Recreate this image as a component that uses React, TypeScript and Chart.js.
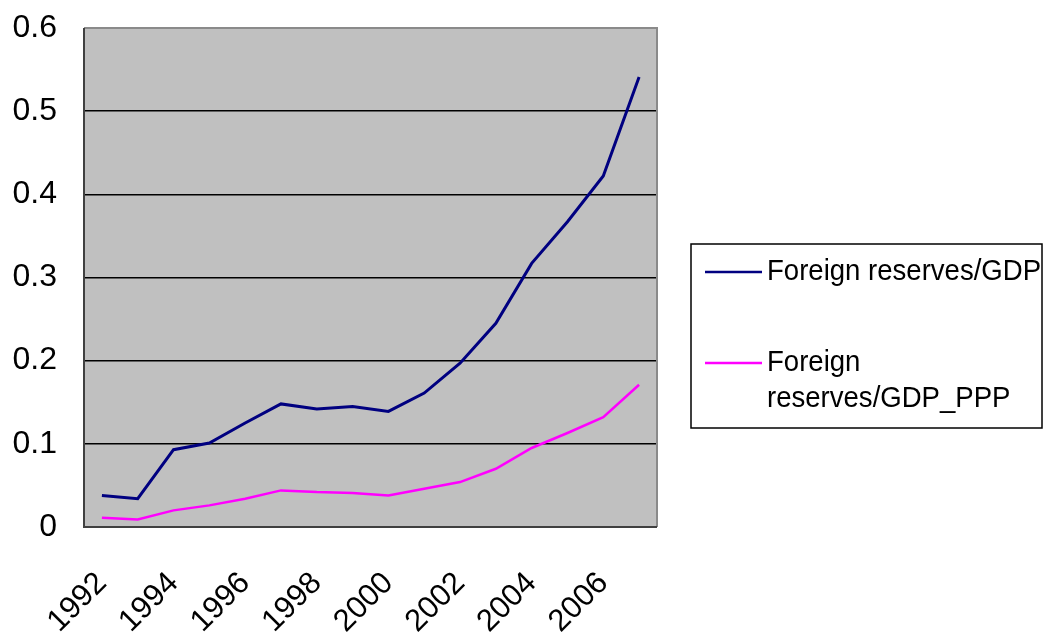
import { useEffect, useRef } from "react";
import { Chart, registerables } from "chart.js";

Chart.register(...registerables);

// Years on the category axis (only even years are labelled)
const years = [
  "1992", "1993", "1994", "1995", "1996", "1997", "1998", "1999",
  "2000", "2001", "2002", "2003", "2004", "2005", "2006", "2007",
];

// Foreign reserves as a share of GDP
const reservesToGdp = [
  0.038, 0.034, 0.093, 0.101, 0.125, 0.148, 0.142, 0.145,
  0.139, 0.161, 0.197, 0.245, 0.317, 0.367, 0.422, 0.541,
];

// Foreign reserves as a share of GDP at purchasing power parity
const reservesToGdpPpp = [
  0.011, 0.009, 0.020, 0.026, 0.034, 0.044, 0.042, 0.041,
  0.038, 0.046, 0.054, 0.070, 0.095, 0.113, 0.132, 0.171,
];

const seriesLabels = ["Foreign reserves/GDP", "Foreign reserves/GDP_PPP"];
// Legend entries as they wrap inside the legend box
const legendLines = [["Foreign reserves/GDP"], ["Foreign", "reserves/GDP_PPP"]];

const yMin = 0;
const yMax = 0.6;
const yStep = 0.1;

const FONT = "'Liberation Sans', Arial, Helvetica, sans-serif";

// Grey plot background, drawn under the grid
const plotBackground = {
  id: "plotBackground",
  beforeDraw(chart: any) {
    const { ctx, chartArea: a } = chart;
    ctx.save();
    ctx.fillStyle = "#c0c0c0";
    ctx.fillRect(a.left, a.top, a.right - a.left, a.bottom - a.top);
    ctx.restore();
  },
  beforeDatasetsDraw(chart: any) {
    const { ctx, chartArea: a } = chart;
    ctx.save();
    ctx.lineWidth = 2;
    ctx.strokeStyle = "#8a8a8a";
    ctx.beginPath();
    ctx.moveTo(a.left, a.top);
    ctx.lineTo(a.right, a.top);
    ctx.lineTo(a.right, a.bottom);
    ctx.stroke();
    ctx.strokeStyle = "#404040";
    ctx.beginPath();
    ctx.moveTo(a.left, a.top);
    ctx.lineTo(a.left, a.bottom);
    ctx.lineTo(a.right, a.bottom);
    ctx.stroke();
    ctx.restore();
  },
};

// Boxed legend to the right of the plot
const boxedLegend = {
  id: "boxedLegend",
  afterDraw(chart: any) {
    const { ctx } = chart;
    const box = { x: 691, y: 244, w: 351, h: 184 };
    ctx.save();
    ctx.fillStyle = "#ffffff";
    ctx.fillRect(box.x, box.y, box.w, box.h);
    ctx.lineWidth = 1.5;
    ctx.strokeStyle = "#000000";
    ctx.strokeRect(box.x, box.y, box.w, box.h);

    const entryY = [272, 363];
    chart.data.datasets.forEach((ds: any, i: number) => {
      const y = entryY[i];
      ctx.strokeStyle = ds.borderColor;
      ctx.lineWidth = 2.5;
      ctx.beginPath();
      ctx.moveTo(705, y);
      ctx.lineTo(762, y);
      ctx.stroke();

      ctx.fillStyle = "#000000";
      ctx.font = `29px ${FONT}`;
      ctx.textAlign = "left";
      ctx.textBaseline = "middle";
      legendLines[i].forEach((line, j) => {
        ctx.save();
        ctx.translate(767, y + j * 36);
        ctx.scale(0.95, 1);
        ctx.fillText(line, 0, 0);
        ctx.restore();
      });
    });
    ctx.restore();
  },
};

export default function App() {
  const canvasRef = useRef<HTMLCanvasElement | null>(null);

  useEffect(() => {
    const canvas = canvasRef.current;
    if (!canvas) return;
    const chart = new Chart(canvas, {
      type: "line",
      data: {
        labels: years,
        datasets: [
          {
            label: seriesLabels[0],
            data: reservesToGdp,
            borderColor: "#000080",
            backgroundColor: "#000080",
            borderWidth: 3,
            pointRadius: 0,
            tension: 0,
          },
          {
            label: seriesLabels[1],
            data: reservesToGdpPpp,
            borderColor: "#ff00ff",
            backgroundColor: "#ff00ff",
            borderWidth: 2.5,
            pointRadius: 0,
            tension: 0,
          },
        ],
      },
      options: {
        responsive: false,
        animation: false,
        layout: { padding: { left: 0, top: 28, right: 386, bottom: 0 } },
        plugins: {
          legend: { display: false },
          tooltip: { enabled: false },
        },
        scales: {
          x: {
            type: "category",
            offset: true,
            grid: { display: false, drawTicks: false },
            border: { display: false },
            ticks: {
              autoSkip: false,
              maxRotation: 45,
              minRotation: 45,
              padding: 38,
              color: "#000000",
              font: { family: FONT, size: 31 },
              callback: (_v: any, i: number) => (i % 2 === 0 ? years[i] : ""),
            },
            afterFit: (scale: any) => {
              scale.height = 108;
              scale.paddingLeft = 0;
              scale.paddingRight = 0;
              scale.paddingTop = 0;
              scale.paddingBottom = 0;
            },
          },
          y: {
            min: yMin,
            max: yMax,
            grid: { color: "#000000", lineWidth: 1.5, drawTicks: false },
            border: { display: false },
            ticks: {
              stepSize: yStep,
              padding: 27,
              color: "#000000",
              font: { family: FONT, size: 32 },
              callback: (v: any) => String(Number(Number(v).toFixed(1))),
            },
            afterFit: (scale: any) => {
              scale.width = 84;
              scale.paddingTop = 0;
              scale.paddingBottom = 0;
              scale.paddingLeft = 0;
              scale.paddingRight = 0;
            },
          },
        },
      },
      plugins: [plotBackground, boxedLegend],
    });
    return () => chart.destroy();
  }, []);

  return (
    <div style={{ position: "absolute", left: 0, top: 0, width: 1043, height: 635, background: "#ffffff" }}>
      <canvas ref={canvasRef} width={1043} height={635} style={{ display: "block" }} />
    </div>
  );
}
